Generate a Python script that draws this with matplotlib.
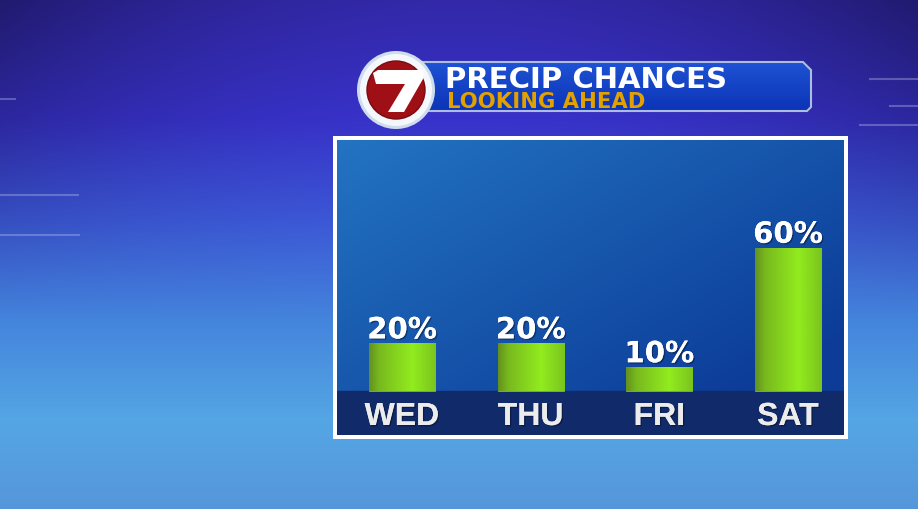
import numpy as np
import matplotlib
matplotlib.use("Agg")
import matplotlib.pyplot as plt
from matplotlib.patches import Polygon, Circle
import matplotlib.patheffects as pe

# ---- data ----
days = ["WED", "THU", "FRI", "SAT"]
chances = [20, 20, 10, 60]
value_labels = ["20%", "20%", "10%", "60%"]
title_main = "PRECIP CHANCES"
title_sub = "LOOKING AHEAD"

W, H = 918, 510
fig = plt.figure(figsize=(W / 100, H / 100), dpi=100)

# ---- background (full-figure pixel axes) ----
ax_bg = fig.add_axes([0, 0, 1, 1])
ax_bg.set_xlim(0, W)
ax_bg.set_ylim(H, 0)
ax_bg.axis("off")

yy, xx = np.mgrid[0:H, 0:W].astype(float)
stops_y = [0, 120, 220, 320, 420, 510]
stops_c = np.array([(50, 40, 168), (56, 50, 202), (60, 88, 215),
                    (68, 132, 220), (84, 166, 228), (86, 150, 218)]) / 255.0
bg = np.zeros((H, W, 3))
for c in range(3):
    bg[..., c] = np.interp(yy, stops_y, stops_c[:, c])
d = ((xx - 459) / 459.0) ** 2
fac = 1 - 0.34 * d * np.clip(1 - yy / 320.0, 0, 1)
bg *= fac[..., None]
ax_bg.imshow(bg, extent=(0, W, H, 0), aspect="auto", zorder=0)

# faint decorative lines
line_col = (0.75, 0.78, 0.95, 0.35)
for (x0, x1, y) in [(870, 918, 80), (890, 918, 107), (0, 15, 100),
                    (0, 78, 196), (0, 79, 236), (860, 918, 126)]:
    ax_bg.plot([x0, x1], [y, y], color=line_col, lw=1.5, zorder=1)

# ---- banner ----
banner_pts = [(410, 63), (803, 63), (811, 71), (811, 108), (807, 112), (410, 112)]
banner = Polygon(banner_pts, closed=True, facecolor="none",
                 edgecolor=(0.68, 0.74, 0.88), lw=1.5, zorder=4)
ax_bg.add_patch(banner)
grad = np.linspace(0, 1, 60)[:, None]
top_c = np.array([30, 82, 212]) / 255.0
bot_c = np.array([12, 52, 182]) / 255.0
bimg = top_c[None, None, :] * (1 - grad[..., None]) + bot_c[None, None, :] * grad[..., None]
bimg = np.repeat(bimg, 2, axis=1)
im = ax_bg.imshow(bimg, extent=(410, 812, 112, 63), aspect="auto", zorder=3)
im.set_clip_path(banner)

ax_bg.text(445, 88.5, title_main, color="white", fontsize=21,
           fontfamily="DejaVu Sans", fontweight="bold", va="baseline", ha="left", zorder=6)
ax_bg.text(447, 107.5, title_sub, color="#E3A100", fontsize=15.2,
           fontfamily="DejaVu Sans", fontweight="bold", va="baseline", ha="left", zorder=6)

# ---- logo ----
ax_bg.add_patch(Circle((396, 91), 39, facecolor="#cfdcec", edgecolor="none", zorder=7))
ax_bg.add_patch(Circle((396, 91), 36, facecolor="#f4f7fb", edgecolor="none", zorder=7))
ax_bg.add_patch(Circle((396, 91), 29, facecolor="#9e0f16", edgecolor="#7a0a10", lw=1, zorder=8))
seven = [(373, 74), (378, 71), (424, 71), (423, 80), (404, 113), (388, 113), (405, 85), (376, 85)]
ax_bg.add_patch(Polygon(seven, closed=True, facecolor="white", edgecolor="none", zorder=9))

# ---- chart panel ----
L, R, T, B = 335, 846, 139, 438
ax = fig.add_axes([L / W, 1 - B / H, (R - L) / W, (B - T) / H])
zero_px = 392
k = 2.39          # pixels per percent
sp = 128.67       # pixels per category
c0 = 402
ylo, yhi = -(B - zero_px) / k, (zero_px - T) / k
xlo, xhi = -(c0 - L) / sp, (R - c0) / sp
ax.set_xlim(xlo, xhi)
ax.set_ylim(ylo, yhi)

# panel gradient
pu, pv = np.meshgrid(np.linspace(0, 1, 200), np.linspace(0, 1, 120))
t = np.clip((pu * 0.6 + pv * 0.6), 0, 1)[..., None]
c_tl = np.array([35, 116, 194]) / 255.0
c_br = np.array([12, 60, 152]) / 255.0
pimg = c_tl * (1 - t) + c_br * t
ax.imshow(pimg, extent=(xlo, xhi, ylo, yhi), aspect="auto", origin="upper", zorder=0)
ax.axhspan(ylo, 0, color="#112a6a", zorder=1)

x = np.arange(len(days))
bars = ax.bar(x, chances, width=0.513, color="#8ad81e",
              edgecolor=(0.55, 0.62, 0.45), linewidth=0.6, zorder=2)

# horizontal green gradient for each bar
gx = np.linspace(0, 1, 100)
gstops = [0, 0.15, 0.65, 1.0]
gcols = np.array([(98, 145, 30), (120, 185, 30), (146, 236, 30), (122, 196, 30)]) / 255.0
gimg = np.stack([np.interp(gx, gstops, gcols[:, c]) for c in range(3)], axis=-1)[None, :, :]
for b in bars:
    bx, bw, bh = b.get_x(), b.get_width(), b.get_height()
    gi = ax.imshow(gimg, extent=(bx, bx + bw, 0, bh), aspect="auto", zorder=3)
    gi.set_clip_path(b)

shadow = [pe.withSimplePatchShadow(offset=(1, -1), shadow_rgbFace="black", alpha=0.35), pe.Normal()]
for xi, v, lab in zip(x, chances, value_labels):
    ax.annotate(lab, (xi, v), xytext=(0, 3.5), textcoords="offset points",
                ha="center", va="baseline", color="white", fontsize=21,
                fontfamily="DejaVu Sans", fontweight="bold", zorder=5, path_effects=shadow)

day_y = -(426 - zero_px) / k
for xi, dlab in zip(x, days):
    ax.text(xi, day_y, dlab, ha="center", va="baseline", color="#ececec",
            fontsize=23, fontfamily="Liberation Sans", fontweight="bold", zorder=5,
            path_effects=shadow)

ax.set_xticks([])
ax.set_yticks([])
for s in ax.spines.values():
    s.set_color("white")
    s.set_linewidth(2.88)
    s.set_zorder(6)

fig.savefig("out.png", dpi=100)
